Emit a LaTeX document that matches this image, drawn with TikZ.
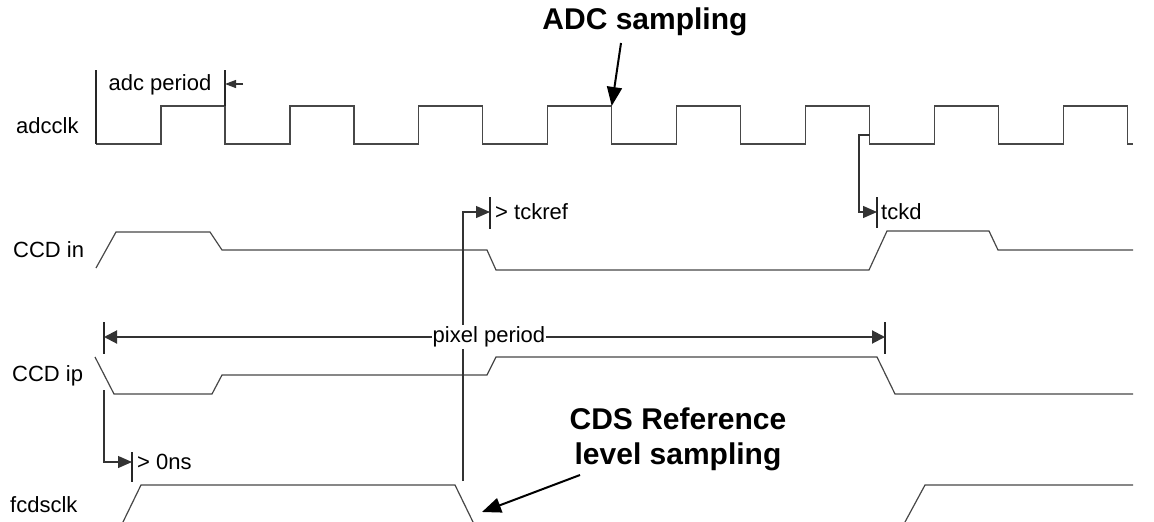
\documentclass[tikz,border=0pt]{standalone}
\usepackage{fontspec}
\setmainfont{Liberation Sans}
\usetikzlibrary{arrows.meta}
\begin{document}
\begin{tikzpicture}[x=1pt,y=-1pt,
  wave/.style={line width=1.2pt, draw=black!72, line join=miter},
  tick/.style={line width=1.2pt, draw=black!85},
  lead/.style={line width=1.2pt, draw=black!80, -{Triangle[length=14pt,width=12pt]}},
  smalllead/.style={line width=1.2pt, draw=black!80, -{Triangle[length=11pt,width=8pt]}},
  span/.style={line width=2pt, draw=black!80, {Triangle[length=13pt,width=13pt]}-{Triangle[length=13pt,width=13pt]}},
  callout/.style={line width=2pt, draw=black, -{Triangle[length=19pt,width=15pt]}},
  lbl/.style={font=\fontsize{22}{24}\selectfont, inner sep=0pt},
  note/.style={font=\bfseries\fontsize{30}{35}\selectfont, align=center, inner sep=0pt}]
\useasboundingbox (0,0) rectangle (1154,522);

% signal names
\node[lbl, anchor=base west] (nclk) at (16,133) {adcclk};
\node[lbl, anchor=base west] (nin)  at (13,257) {CCD in};
\node[lbl, anchor=base west] (nip)  at (12,381) {CCD ip};
\node[lbl, anchor=base west] (nfcd) at (10,512) {fcdsclk};

% adcclk: eight clock periods
\draw[wave] (96,144)
  foreach \k in {0,...,7} {
    -- ({161+128.9*\k},144) -- ({161+128.9*\k},106)
    -- ({225+128.9*\k},106) -- ({225+128.9*\k},144) }
  -- (1133,144);

% CCD in
\draw[wave] (96,268) -- (116,232) -- (210,232) -- (222,250) -- (487,250)
  -- (496,270) -- (869,270) -- (887,231) -- (989,231) -- (998,250) -- (1133,250);

% CCD ip
\draw[wave] (95,357) -- (114,394) -- (212,394) -- (222,375) -- (487,375)
  -- (496,357) -- (877,357) -- (895,394) -- (1133,394);

% fcdsclk
\draw[wave] (123,522) -- (141,485) -- (455,485) -- (473,522);
\draw[wave] (905,522) -- (925,485) -- (1133,485);

% adc period
\coordinate (apL) at (96,70);
\coordinate (apR) at (225,70);
\draw[tick] (apL) -- (96,144);
\draw[tick] (apR) -- (225,106);
\node[lbl] (aptext) at (160,85) {adc period};
\coordinate (apfrom) at (243,84);
\coordinate (apto) at (225,84);
\draw[smalllead] (apfrom) -- (apto);

% ADC sampling
\node[note] (adcnote) at (645,22) {ADC sampling};
\coordinate (adcfrom) at (621,43);
\coordinate (adcto) at (611.7,106);
\draw[callout] (adcfrom) -- (adcto);

% tckref
\coordinate (trA) at (463,481);
\coordinate (trB) at (463,212);
\coordinate (trC) at (490,212);
\draw[tick] (490,197) -- (490,229);
\draw[lead] (trA) -- (trB) -- (trC);
\node[lbl, anchor=west] (trtext) at (495,212) {> tckref};

% tckd
\coordinate (tdA) at (869.5,135);
\coordinate (tdB) at (859,135);
\coordinate (tdC) at (859,212);
\coordinate (tdD) at (877,212);
\draw[tick] (877,197) -- (877,228);
\draw[lead] (tdA) -- (tdB) -- (tdC) -- (tdD);
\node[lbl, anchor=west] (tdtext) at (881,212) {tckd};

% pixel period
\coordinate (ppL) at (104,337);
\coordinate (ppR) at (885,337);
\draw[tick] (104,322) -- (104,354);
\draw[tick] (885,322) -- (885,354);
\draw[span] (ppL) -- (ppR);
\node[lbl, fill=white, inner xsep=1pt, inner ysep=2pt] (pptext) at (489,337) {pixel period};

% > 0ns
\coordinate (zA) at (104,390);
\coordinate (zB) at (104,462);
\coordinate (zC) at (132,462);
\draw[tick] (132,452) -- (132,482);
\draw[lead] (zA) -- (zB) -- (zC);
\node[lbl, anchor=west] (ztext) at (137,462) {> 0ns};

% CDS reference level sampling
\node[note] (cdsnote) at (678,439) {CDS Reference\\level sampling};
\coordinate (cdsfrom) at (580,475);
\coordinate (cdsto) at (482,512);
\draw[callout] (cdsfrom) -- (cdsto);
\end{tikzpicture}
\end{document}
